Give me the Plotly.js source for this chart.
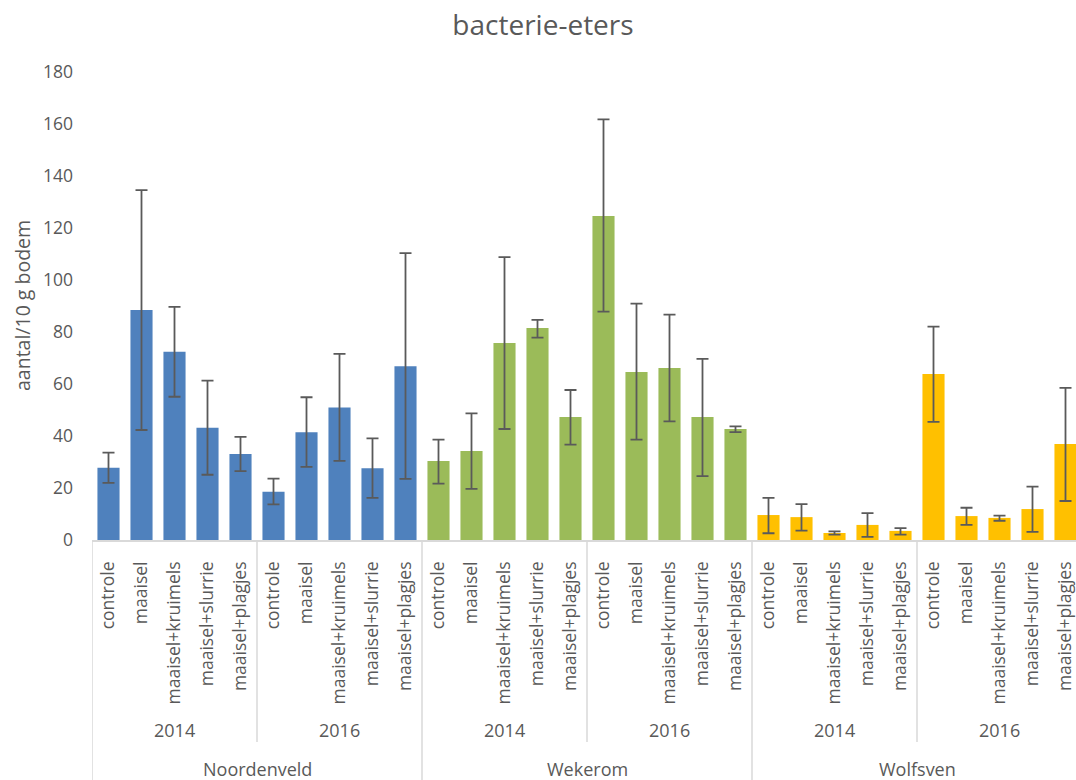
<!DOCTYPE html>
<html><head><meta charset="utf-8">
<script src="https://cdn.plot.ly/plotly-3.0.1.min.js"></script>
<style>html,body{margin:0;padding:0;background:#fff;overflow:hidden}</style>
</head><body><div id="chart" style="width:1076px;height:780px"></div>
<script>
const treatments = ["controle","maaisel","maaisel+kruimels","maaisel+slurrie","maaisel+plagjes"];
const years = ["2014","2016"];
const sites = ["Noordenveld","Wekerom","Wolfsven"];
const siteColors = ["#4F81BD","#9BBB59","#FFC000"];

const noordenveldMean = [27.8, 88.5, 72.4, 43.2, 33.1, 18.6, 41.4, 51.0, 27.6, 66.8];
const noordenveldHigh = [33.6, 134.6, 89.7, 61.3, 39.7, 23.6, 54.9, 71.6, 39.1, 110.3];
const noordenveldLow  = [22.0, 42.3, 55.1, 25.1, 26.5, 13.7, 28.1, 30.4, 16.2, 23.5];

const wekeromMean = [30.4, 34.2, 75.8, 81.5, 47.3, 124.6, 64.6, 66.2, 47.3, 42.7];
const wekeromHigh = [38.6, 48.7, 108.8, 84.7, 57.7, 161.8, 90.9, 86.7, 69.7, 43.7];
const wekeromLow  = [21.7, 19.7, 42.7, 77.8, 36.7, 87.8, 38.6, 45.6, 24.6, 41.5];

const wolfsvenMean = [9.6, 8.8, 2.7, 5.8, 3.5, 63.8, 9.2, 8.5, 11.9, 36.9];
const wolfsvenHigh = [16.2, 13.8, 3.3, 10.3, 4.6, 82.1, 12.4, 9.4, 20.5, 58.5];
const wolfsvenLow  = [2.6, 3.6, 2.1, 1.2, 2.1, 45.4, 5.8, 7.4, 3.1, 15.0];

const means = [noordenveldMean, wekeromMean, wolfsvenMean];
const highs = [noordenveldHigh, wekeromHigh, wolfsvenHigh];
const lows = [noordenveldLow, wekeromLow, wolfsvenLow];

const txtColor = "#595959";
const fontFam = "Open Sans, Segoe UI, sans-serif";
const perSite = years.length * treatments.length;
const nCat = sites.length * perSite;

const traces = [];
const tickvals = [], ticktext = [];
sites.forEach((s, si) => {
  const xs = [];
  years.forEach((y, yi) => treatments.forEach((t, ti) => {
    const idx = si * perSite + yi * treatments.length + ti;
    xs.push(idx); tickvals.push(idx); ticktext.push(t);
  }));
  traces.push({
    type: "bar", name: s, x: xs, y: means[si],
    width: 0.67,
    marker: {color: siteColors[si]},
    error_y: {
      type: "data", symmetric: false,
      array: highs[si].map((h, i) => h - means[si][i]),
      arrayminus: lows[si].map((l, i) => means[si][i] - l),
      color: "#5a5a5a", thickness: 1.8, width: 6
    },
    hoverinfo: "x+y"
  });
});

const plotTop = 72, plotBottom = 540, plotH = plotBottom - plotTop;
const py = (pix) => -(pix - plotBottom) / plotH;

const shapes = [];
const annotations = [];
for (let si = 0; si <= sites.length; si++) {
  shapes.push({type: "line", xref: "x", yref: "paper", x0: si * perSite - 0.5, x1: si * perSite - 0.5,
    y0: 0, y1: py(782), line: {color: "#d9d9d9", width: 1.5}});
}
sites.forEach((s, si) => {
  years.forEach((y, yi) => {
    if (yi > 0) {
      const xb = si * perSite + yi * treatments.length - 0.5;
      shapes.push({type: "line", xref: "x", yref: "paper", x0: xb, x1: xb, y0: 0, y1: py(742),
        line: {color: "#d9d9d9", width: 1.5}});
    }
    annotations.push({xref: "x", yref: "paper", x: si * perSite + yi * treatments.length + (treatments.length - 1) / 2,
      y: py(730), text: y, showarrow: false, xanchor: "center", yanchor: "middle",
      font: {family: fontFam, size: 18, color: txtColor}});
  });
  annotations.push({xref: "x", yref: "paper", x: si * perSite + (perSite - 1) / 2,
    y: py(769), text: s, showarrow: false, xanchor: "center", yanchor: "middle",
    font: {family: fontFam, size: 18, color: txtColor}});
});
annotations.push({xref: "paper", yref: "paper", x: -(92 - 22) / 984, y: 0.5, text: "aantal/10 g bodem",
  textangle: -90, showarrow: false, xanchor: "center", yanchor: "middle",
  font: {family: fontFam, size: 19.5, color: txtColor}});

const layout = {
  width: 1076, height: 780,
  margin: {l: 92, r: 0, t: plotTop, b: 780 - plotBottom, pad: 0},
  paper_bgcolor: "#fff", plot_bgcolor: "#fff",
  showlegend: false,
  title: {text: "bacterie-eters", x: 543 / 1076, xref: "container", xanchor: "center",
    y: 1 - 25 / 780, yref: "container", yanchor: "middle",
    font: {family: fontFam, size: 28, color: txtColor}},
  xaxis: {
    range: [-0.5, nCat - 0.5 - 6 / 33],
    tickmode: "array", tickvals: tickvals, ticktext: ticktext,
    tickangle: -90, ticks: "", ticklabelstandoff: 13, ticklabeloverflow: "allow",
    tickfont: {family: fontFam, size: 17.5, color: txtColor},
    showline: true, linecolor: "#d9d9d9", linewidth: 1.5,
    showgrid: false, zeroline: false, fixedrange: true
  },
  yaxis: {
    range: [0, 180], dtick: 20, tick0: 0,
    showgrid: false, zeroline: false, showline: false, ticks: "",
    ticklabelstandoff: 18,
    tickfont: {family: fontFam, size: 17.5, color: txtColor}, fixedrange: true
  },
  bargap: 0.33,
  shapes: shapes,
  annotations: annotations
};

Plotly.newPlot("chart", traces, layout, {displayModeBar: false, staticPlot: true});
</script>
</body></html>
